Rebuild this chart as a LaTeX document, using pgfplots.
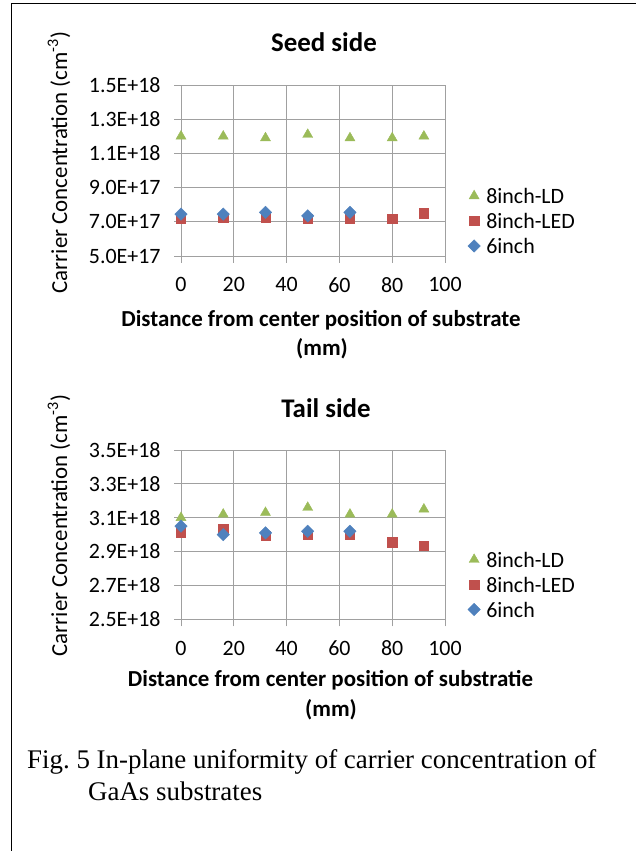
\documentclass[border=0pt]{standalone}
\usepackage{pgfplots}
\pgfplotsset{compat=1.18}
\usepackage{fontspec}
\setmainfont{Carlito}
\newfontfamily\tnr{Liberation Serif}
\frenchspacing
\definecolor{gridgray}{RGB}{160,160,160}
\definecolor{cLD}{RGB}{155,187,89}
\definecolor{cLED}{RGB}{192,80,77}
\definecolor{cSix}{RGB}{79,129,189}
\pgfplotsset{
  excelaxis/.style={
    scale only axis, width=264bp, anchor=south west,
    xmin=0, xmax=100, xtick={0,20,40,60,80,100},
    scaled y ticks=false,
    grid=major, grid style={gridgray, line width=0.8bp},
    axis line style={gridgray, line width=0.8bp},
    tick style={gridgray, line width=0.8bp},
    tick align=outside, major tick length=7bp,
    xtick pos=bottom, ytick pos=left,
    /pgf/number format/assume math mode=true,
    tick label style={font=\fontsize{22}{22}\selectfont, black},
    yticklabel style={xshift=-10bp},
    xticklabel style={yshift=-11bp},
    clip=false,
    legend cell align=left,
    legend image code/.code={\draw[mark repeat=2,mark phase=2,#1] plot coordinates {(0bp,0bp)(6bp,0bp)(12bp,0bp)};},
    legend style={draw=none, fill=none, anchor=west, inner sep=0pt,
      font=\fontsize{22}{22}\selectfont, row sep=0pt,
      nodes={inner xsep=0bp, inner ysep=5bp, text height=15bp, text depth=0bp},
      /tikz/every odd column/.style={column sep=6bp}},
  },
  ld/.style={only marks, mark=triangle*, mark size=5.8bp, color=cLD},
  led/.style={only marks, mark=square*, mark size=4.6bp, color=cLED},
  six/.style={only marks, mark=square*, mark size=4.4bp, mark options={rotate=45}, color=cSix},
}
\begin{document}
\begin{tikzpicture}[x=1bp,y=1bp]
\path[use as bounding box] (0,0) rectangle (636,851);
\draw[line width=1bp] (11,0) -- (11,847) -- (636,847);

% ---------- Seed side ----------
\begin{axis}[excelaxis, at={(181bp,595bp)}, height=171bp,
  ymin=5e17, ymax=1.5e18,
  ytick={5e17,7e17,9e17,1.1e18,1.3e18,1.5e18},
  yticklabels={5.0E+17,7.0E+17,9.0E+17,1.1E+18,1.3E+18,1.5E+18},
  legend style={at={(rel axis cs:1.086,0.205)}}]
\addplot[ld] coordinates {(0,1.20e18)(16,1.20e18)(32,1.19e18)(48,1.21e18)(64,1.19e18)(80,1.19e18)(92,1.20e18)};
\addlegendentry{8inch-LD}
\addplot[led] coordinates {(0,7.2e17)(16,7.25e17)(32,7.25e17)(48,7.2e17)(64,7.2e17)(80,7.2e17)(92,7.5e17)};
\addlegendentry{8inch-LED}
\addplot[six] coordinates {(0,7.45e17)(16,7.45e17)(32,7.55e17)(48,7.35e17)(64,7.55e17)};
\addlegendentry{6inch}
\end{axis}
\node[anchor=base, font=\fontsize{27}{27}\selectfont\bfseries] at (324,799) {Seed side};
\node[rotate=90, font=\fontsize{23}{23}\selectfont] at (59,688.5) {Carrier Concentration (cm\textsuperscript{-3})};
\node[anchor=base, font=\fontsize{23}{23}\selectfont\bfseries] at (321,524) {Distance from center position of substrate};
\node[anchor=base, font=\fontsize{23}{23}\selectfont\bfseries] at (322,495) {(mm)};

% ---------- Tail side ----------
\begin{axis}[excelaxis, at={(181bp,231.7bp)}, height=169.3bp,
  ymin=2.5e18, ymax=3.5e18,
  ytick={2.5e18,2.7e18,2.9e18,3.1e18,3.3e18,3.5e18},
  yticklabels={2.5E+18,2.7E+18,2.9E+18,3.1E+18,3.3E+18,3.5E+18},
  legend style={at={(rel axis cs:1.086,0.205)}}]
\addplot[ld] coordinates {(0,3.10e18)(16,3.12e18)(32,3.13e18)(48,3.16e18)(64,3.12e18)(80,3.12e18)(92,3.15e18)};
\addlegendentry{8inch-LD}
\addplot[led] coordinates {(0,3.015e18)(16,3.035e18)(32,2.995e18)(48,3.0e18)(64,3.0e18)(80,2.955e18)(92,2.935e18)};
\addlegendentry{8inch-LED}
\addplot[six] coordinates {(0,3.05e18)(16,3.0e18)(32,3.01e18)(48,3.02e18)(64,3.02e18)};
\addlegendentry{6inch}
\end{axis}
\node[anchor=base, font=\fontsize{27}{27}\selectfont\bfseries] at (326,433.3) {Tail side};
\node[rotate=90, font=\fontsize{23}{23}\selectfont] at (59,325.5) {Carrier Concentration (cm\textsuperscript{-3})};
\node[anchor=base, font=\fontsize{23}{23}\selectfont\bfseries] at (330.5,164) {Distance from center position of substratie};
\node[anchor=base, font=\fontsize{23}{23}\selectfont\bfseries] at (331,134) {(mm)};

% ---------- Caption ----------
\node[anchor=base west, inner sep=0pt, font=\tnr\fontsize{27}{27}\selectfont] at (27,82) {Fig. 5 In-plane uniformity of carrier concentration of};
\node[anchor=base west, inner sep=0pt, font=\tnr\fontsize{27}{27}\selectfont] at (88,50) {GaAs substrates};
\end{tikzpicture}
\end{document}
